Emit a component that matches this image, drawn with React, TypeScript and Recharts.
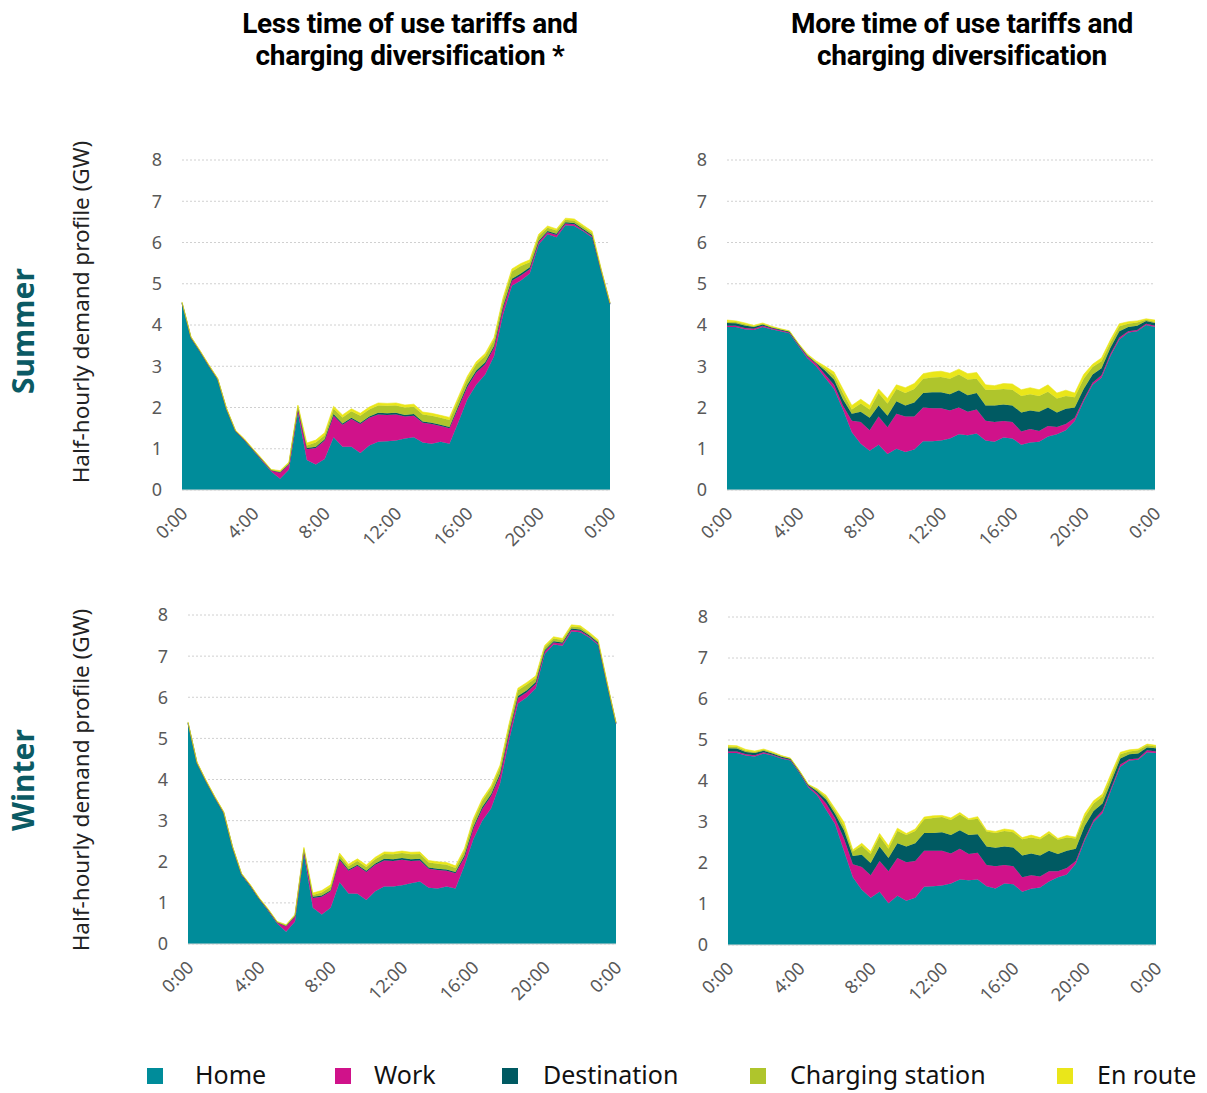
import * as React from 'react';
import { AreaChart, Area, XAxis, YAxis, CartesianGrid } from 'recharts';

const times = [
  '0:00', '0:30', '1:00', '1:30', '2:00', '2:30', '3:00', '3:30', '4:00', '4:30',
  '5:00', '5:30', '6:00', '6:30', '7:00', '7:30', '8:00', '8:30', '9:00', '9:30',
  '10:00', '10:30', '11:00', '11:30', '12:00', '12:30', '13:00', '13:30', '14:00', '14:30',
  '15:00', '15:30', '16:00', '16:30', '17:00', '17:30', '18:00', '18:30', '19:00', '19:30',
  '20:00', '20:30', '21:00', '21:30', '22:00', '22:30', '23:00', '23:30', '0:00',
];
const yTicks = [0, 1, 2, 3, 4, 5, 6, 7, 8];

// Summer, less ToU
const summerLessHome = [4.52, 3.68, 3.35, 3.0, 2.67, 1.94, 1.41, 1.2, 0.95, 0.7, 0.45, 0.27, 0.5, 1.88, 0.73, 0.62, 0.75, 1.28, 1.05, 1.05, 0.9, 1.08, 1.17, 1.18, 1.2, 1.25, 1.28, 1.15, 1.12, 1.17, 1.12, 1.65, 2.2, 2.55, 2.8, 3.25, 4.25, 4.95, 5.08, 5.25, 5.95, 6.2, 6.13, 6.42, 6.4, 6.27, 6.12, 5.3, 4.5];
const summerLessWork = [0.01, 0.01, 0.01, 0.01, 0.01, 0.01, 0.01, 0.01, 0.01, 0.02, 0.02, 0.15, 0.12, 0.1, 0.26, 0.4, 0.45, 0.52, 0.53, 0.67, 0.7, 0.67, 0.66, 0.64, 0.63, 0.53, 0.52, 0.48, 0.48, 0.38, 0.38, 0.35, 0.3, 0.3, 0.25, 0.2, 0.15, 0.12, 0.12, 0.1, 0.06, 0.05, 0.05, 0.04, 0.04, 0.03, 0.03, 0.02, 0.01];
const summerLessDest = [0.01, 0.01, 0.01, 0.01, 0.01, 0.01, 0.01, 0.01, 0.01, 0.01, 0.01, 0.01, 0.01, 0.01, 0.03, 0.03, 0.03, 0.04, 0.03, 0.03, 0.03, 0.03, 0.04, 0.04, 0.04, 0.04, 0.04, 0.03, 0.03, 0.03, 0.03, 0.05, 0.05, 0.05, 0.05, 0.05, 0.05, 0.05, 0.05, 0.05, 0.03, 0.03, 0.03, 0.03, 0.03, 0.03, 0.03, 0.01, 0.01];
const summerLessStation = [0.01, 0.01, 0.01, 0.01, 0.01, 0.01, 0.01, 0.01, 0.01, 0.01, 0.01, 0.02, 0.03, 0.04, 0.06, 0.1, 0.1, 0.13, 0.15, 0.16, 0.17, 0.17, 0.18, 0.18, 0.18, 0.18, 0.18, 0.17, 0.17, 0.17, 0.17, 0.15, 0.15, 0.15, 0.15, 0.14, 0.15, 0.18, 0.18, 0.12, 0.12, 0.08, 0.08, 0.06, 0.06, 0.05, 0.05, 0.02, 0.01];
const summerLessEnRoute = [0.01, 0.01, 0.01, 0.01, 0.01, 0.01, 0.01, 0.01, 0.01, 0.01, 0.01, 0.02, 0.02, 0.03, 0.06, 0.06, 0.06, 0.06, 0.06, 0.06, 0.06, 0.06, 0.06, 0.06, 0.06, 0.06, 0.06, 0.06, 0.06, 0.06, 0.06, 0.06, 0.06, 0.06, 0.06, 0.06, 0.06, 0.06, 0.06, 0.06, 0.04, 0.04, 0.04, 0.04, 0.04, 0.04, 0.04, 0.02, 0.01];

// Summer, more ToU
const summerMoreHome = [3.95, 3.95, 3.9, 3.88, 3.95, 3.9, 3.85, 3.8, 3.5, 3.2, 3.0, 2.72, 2.45, 1.95, 1.4, 1.12, 0.95, 1.1, 0.87, 1.0, 0.92, 0.98, 1.18, 1.18, 1.2, 1.25, 1.35, 1.33, 1.37, 1.2, 1.17, 1.27, 1.25, 1.1, 1.15, 1.17, 1.3, 1.35, 1.45, 1.67, 2.15, 2.55, 2.72, 3.25, 3.65, 3.82, 3.85, 4.0, 3.95];
const summerMoreWork = [0.03, 0.03, 0.03, 0.03, 0.03, 0.02, 0.02, 0.02, 0.02, 0.04, 0.06, 0.08, 0.1, 0.1, 0.28, 0.53, 0.5, 0.68, 0.65, 0.85, 0.86, 0.8, 0.82, 0.8, 0.78, 0.68, 0.65, 0.57, 0.58, 0.48, 0.48, 0.4, 0.4, 0.32, 0.33, 0.26, 0.25, 0.18, 0.15, 0.08, 0.05, 0.05, 0.06, 0.05, 0.05, 0.03, 0.03, 0.03, 0.03];
const summerMoreDest = [0.07, 0.06, 0.06, 0.04, 0.03, 0.02, 0.02, 0.02, 0.02, 0.02, 0.02, 0.1, 0.13, 0.15, 0.17, 0.25, 0.3, 0.27, 0.28, 0.3, 0.27, 0.34, 0.35, 0.39, 0.39, 0.39, 0.42, 0.4, 0.4, 0.37, 0.4, 0.4, 0.4, 0.46, 0.45, 0.47, 0.45, 0.35, 0.37, 0.25, 0.25, 0.2, 0.17, 0.15, 0.15, 0.1, 0.1, 0.07, 0.07];
const summerMoreStation = [0.03, 0.03, 0.03, 0.02, 0.02, 0.01, 0.01, 0.01, 0.01, 0.02, 0.02, 0.05, 0.1, 0.15, 0.1, 0.2, 0.2, 0.3, 0.3, 0.3, 0.3, 0.33, 0.35, 0.36, 0.37, 0.38, 0.38, 0.38, 0.35, 0.38, 0.38, 0.38, 0.38, 0.4, 0.39, 0.38, 0.38, 0.34, 0.31, 0.25, 0.25, 0.18, 0.17, 0.12, 0.12, 0.08, 0.08, 0.03, 0.03];
const summerMoreEnRoute = [0.04, 0.03, 0.03, 0.02, 0.02, 0.02, 0.01, 0.01, 0.01, 0.02, 0.03, 0.05, 0.08, 0.1, 0.1, 0.1, 0.1, 0.1, 0.12, 0.1, 0.13, 0.13, 0.12, 0.13, 0.14, 0.13, 0.13, 0.14, 0.15, 0.12, 0.1, 0.13, 0.14, 0.15, 0.16, 0.15, 0.17, 0.13, 0.14, 0.1, 0.1, 0.07, 0.08, 0.07, 0.06, 0.05, 0.04, 0.02, 0.04];

// Winter, less ToU
const winterLessHome = [5.36, 4.39, 3.95, 3.55, 3.18, 2.33, 1.68, 1.4, 1.08, 0.8, 0.5, 0.3, 0.55, 2.2, 0.88, 0.72, 0.88, 1.5, 1.23, 1.22, 1.07, 1.28, 1.4, 1.4, 1.43, 1.48, 1.52, 1.37, 1.35, 1.4, 1.35, 1.9, 2.55, 3.0, 3.3, 3.9, 4.95, 5.85, 6.0, 6.22, 7.05, 7.28, 7.25, 7.6, 7.58, 7.45, 7.27, 6.3, 5.35];
const winterLessWork = [0.01, 0.01, 0.01, 0.01, 0.01, 0.01, 0.01, 0.01, 0.01, 0.02, 0.02, 0.13, 0.12, 0.08, 0.24, 0.43, 0.4, 0.55, 0.55, 0.68, 0.68, 0.65, 0.63, 0.62, 0.62, 0.54, 0.51, 0.46, 0.45, 0.38, 0.37, 0.2, 0.25, 0.28, 0.3, 0.2, 0.15, 0.13, 0.12, 0.1, 0.06, 0.05, 0.05, 0.04, 0.04, 0.03, 0.03, 0.02, 0.01];
const winterLessDest = [0.01, 0.01, 0.01, 0.01, 0.01, 0.01, 0.01, 0.01, 0.01, 0.01, 0.01, 0.01, 0.01, 0.01, 0.03, 0.03, 0.03, 0.03, 0.03, 0.03, 0.03, 0.03, 0.04, 0.04, 0.04, 0.04, 0.04, 0.03, 0.03, 0.03, 0.03, 0.05, 0.05, 0.05, 0.05, 0.05, 0.05, 0.05, 0.05, 0.05, 0.03, 0.03, 0.03, 0.03, 0.03, 0.03, 0.03, 0.01, 0.01];
const winterLessStation = [0.01, 0.01, 0.01, 0.01, 0.01, 0.01, 0.01, 0.01, 0.01, 0.01, 0.01, 0.02, 0.02, 0.03, 0.04, 0.07, 0.08, 0.08, 0.08, 0.09, 0.09, 0.1, 0.12, 0.12, 0.12, 0.12, 0.12, 0.12, 0.12, 0.12, 0.1, 0.12, 0.15, 0.15, 0.15, 0.15, 0.15, 0.14, 0.14, 0.1, 0.08, 0.07, 0.06, 0.05, 0.05, 0.03, 0.03, 0.02, 0.01];
const winterLessEnRoute = [0.01, 0.01, 0.01, 0.01, 0.01, 0.01, 0.01, 0.01, 0.01, 0.01, 0.01, 0.01, 0.02, 0.03, 0.05, 0.05, 0.05, 0.05, 0.05, 0.05, 0.05, 0.05, 0.05, 0.05, 0.05, 0.05, 0.05, 0.05, 0.05, 0.05, 0.05, 0.05, 0.05, 0.05, 0.05, 0.05, 0.05, 0.05, 0.05, 0.05, 0.04, 0.04, 0.04, 0.04, 0.04, 0.04, 0.04, 0.02, 0.01];

// Winter, more ToU
const winterMoreHome = [4.68, 4.68, 4.62, 4.6, 4.67, 4.62, 4.55, 4.5, 4.2, 3.85, 3.65, 3.3, 2.95, 2.3, 1.65, 1.35, 1.15, 1.3, 1.02, 1.2, 1.08, 1.15, 1.42, 1.43, 1.45, 1.5, 1.6, 1.58, 1.6, 1.43, 1.38, 1.5, 1.48, 1.3, 1.37, 1.4, 1.55, 1.65, 1.72, 1.98, 2.55, 3.0, 3.22, 3.8, 4.35, 4.5, 4.52, 4.7, 4.68];
const winterMoreWork = [0.04, 0.04, 0.03, 0.03, 0.03, 0.02, 0.02, 0.02, 0.02, 0.03, 0.05, 0.15, 0.15, 0.3, 0.32, 0.55, 0.55, 0.75, 0.78, 0.92, 0.94, 0.9, 0.88, 0.87, 0.85, 0.73, 0.75, 0.64, 0.65, 0.52, 0.54, 0.45, 0.44, 0.35, 0.33, 0.27, 0.25, 0.15, 0.16, 0.07, 0.05, 0.05, 0.06, 0.05, 0.05, 0.03, 0.03, 0.05, 0.04];
const winterMoreDest = [0.08, 0.07, 0.06, 0.05, 0.04, 0.03, 0.02, 0.02, 0.02, 0.02, 0.05, 0.1, 0.1, 0.2, 0.2, 0.3, 0.3, 0.35, 0.32, 0.36, 0.38, 0.43, 0.43, 0.43, 0.45, 0.45, 0.45, 0.46, 0.45, 0.45, 0.45, 0.45, 0.46, 0.53, 0.53, 0.51, 0.5, 0.42, 0.42, 0.3, 0.3, 0.22, 0.17, 0.15, 0.15, 0.12, 0.12, 0.07, 0.08];
const winterMoreStation = [0.04, 0.04, 0.03, 0.03, 0.02, 0.02, 0.02, 0.01, 0.01, 0.01, 0.04, 0.06, 0.08, 0.1, 0.11, 0.22, 0.22, 0.25, 0.23, 0.3, 0.28, 0.3, 0.34, 0.37, 0.37, 0.37, 0.38, 0.37, 0.38, 0.37, 0.36, 0.38, 0.37, 0.4, 0.39, 0.4, 0.42, 0.35, 0.32, 0.25, 0.22, 0.18, 0.17, 0.12, 0.1, 0.07, 0.08, 0.05, 0.04];
const winterMoreEnRoute = [0.03, 0.03, 0.03, 0.02, 0.02, 0.02, 0.01, 0.01, 0.01, 0.01, 0.02, 0.04, 0.05, 0.1, 0.04, 0.06, 0.06, 0.07, 0.07, 0.07, 0.04, 0.05, 0.05, 0.05, 0.04, 0.05, 0.05, 0.03, 0.05, 0.03, 0.04, 0.05, 0.05, 0.04, 0.06, 0.04, 0.05, 0.03, 0.05, 0.03, 0.08, 0.07, 0.06, 0.08, 0.05, 0.04, 0.03, 0.03, 0.03];

const seriesNames = ['Home', 'Work', 'Destination', 'Charging station', 'En route'];
const seriesColors = ['#008C9A', '#D0128A', '#005A62', '#AFC52C', '#EAE61A'];

const FONT = "'Noto Sans', 'Open Sans', sans-serif";

function buildRows(series: number[][]) {
  return times.map((t, i) => {
    const row: Record<string, string | number> = { time: t };
    seriesNames.forEach((name, s) => {
      row[name] = series[s][i];
    });
    return row;
  });
}

function XTick(props: any) {
  const { x, y, payload } = props;
  const ax = x - 4;
  const ay = y + 6;
  return (
    <text
      x={ax}
      y={ay}
      transform={`rotate(-45, ${ax}, ${ay})`}
      textAnchor="end"
      dominantBaseline="hanging"
      fontSize={18}
      fill="#595959"
      fontFamily={FONT}
    >
      {payload.value}
    </text>
  );
}

interface PanelProps {
  series: number[][];
  plotLeft: number;
  plotTop: number;
  plotWidth: number;
  plotHeight: number;
}

function Panel({ series, plotLeft, plotTop, plotWidth, plotHeight }: PanelProps) {
  const yAxisWidth = 40;
  const top = 20;
  const xAxisHeight = 70;
  const data = buildRows(series);
  return (
    <div style={{ position: 'absolute', left: plotLeft - yAxisWidth, top: plotTop - top }}>
      <AreaChart
        width={plotWidth + yAxisWidth + 20}
        height={plotHeight + top + xAxisHeight}
        data={data}
        margin={{ top, right: 20, bottom: 0, left: 0 }}
      >
        <CartesianGrid vertical={false} stroke="#d0d0d0" strokeDasharray="2 2" />
        <XAxis
          dataKey="time"
          interval={7}
          height={xAxisHeight}
          tick={<XTick />}
          tickLine={false}
          axisLine={{ stroke: '#d9d9d9' }}
        />
        <YAxis
          domain={[0, 8]}
          ticks={yTicks}
          width={yAxisWidth}
          tickLine={false}
          axisLine={false}
          tickSize={0}
          tickMargin={20}
          tick={{ fontSize: 18, fill: '#595959', fontFamily: FONT }}
        />
        {seriesNames.map((name, s) => (
          <Area
            key={name}
            type="linear"
            dataKey={name}
            stackId="1"
            stroke={seriesColors[s]}
            strokeWidth={0.6}
            fill={seriesColors[s]}
            fillOpacity={1}
            isAnimationActive={false}
          />
        ))}
      </AreaChart>
    </div>
  );
}

export default function App() {
  const titleStyle: React.CSSProperties = {
    position: 'absolute',
    top: 8,
    width: 480,
    textAlign: 'center',
    fontFamily: "'Liberation Sans Narrow', 'Roboto', sans-serif",
    fontWeight: 700,
    fontSize: 28,
    lineHeight: '32px',
    letterSpacing: '-0.3px',
    color: '#000',
  };
  return (
    <div style={{ position: 'absolute', left: 0, top: 0, width: 1207, height: 1093, background: '#fff', overflow: 'hidden' }}>
      <div style={{ ...titleStyle, left: 410 - 240 }}>
        Less time of use tariffs and
        <br />
        charging diversification *
      </div>
      <div style={{ ...titleStyle, left: 962 - 240 }}>
        More time of use tariffs and
        <br />
        charging diversification
      </div>

      <svg width={1207} height={1093} style={{ position: 'absolute', left: 0, top: 0 }}>
        <text x={22} y={331} transform="rotate(-90, 22, 331)" textAnchor="middle" dominantBaseline="central"
          fontFamily={FONT} fontWeight={700} fontSize={30} fill="#0B5A64">Summer</text>
        <text x={22} y={780} transform="rotate(-90, 22, 780)" textAnchor="middle" dominantBaseline="central"
          fontFamily={FONT} fontWeight={700} fontSize={30} fill="#0B5A64">Winter</text>
        <text x={80} y={312} transform="rotate(-90, 80, 312)" textAnchor="middle" dominantBaseline="central"
          fontFamily={FONT} fontSize={22.5} fill="#222">Half-hourly demand profile (GW)</text>
        <text x={80} y={780} transform="rotate(-90, 80, 780)" textAnchor="middle" dominantBaseline="central"
          fontFamily={FONT} fontSize={22.5} fill="#222">Half-hourly demand profile (GW)</text>
      </svg>

      <Panel
        series={[summerLessHome, summerLessWork, summerLessDest, summerLessStation, summerLessEnRoute]}
        plotLeft={182} plotTop={160} plotWidth={428} plotHeight={330}
      />
      <Panel
        series={[summerMoreHome, summerMoreWork, summerMoreDest, summerMoreStation, summerMoreEnRoute]}
        plotLeft={727} plotTop={160} plotWidth={428} plotHeight={330}
      />
      <Panel
        series={[winterLessHome, winterLessWork, winterLessDest, winterLessStation, winterLessEnRoute]}
        plotLeft={188} plotTop={615} plotWidth={428} plotHeight={329}
      />
      <Panel
        series={[winterMoreHome, winterMoreWork, winterMoreDest, winterMoreStation, winterMoreEnRoute]}
        plotLeft={728} plotTop={617} plotWidth={428} plotHeight={328}
      />

      {seriesNames.map((name, s) => {
        const sq = [147, 335, 502, 750, 1057][s];
        const tx = [195, 374, 543, 790, 1097][s];
        return (
          <React.Fragment key={name}>
            <div style={{ position: 'absolute', left: sq, top: 1068, width: 16, height: 16, background: seriesColors[s] }} />
            <div style={{ position: 'absolute', left: tx, top: 1062, fontFamily: FONT, fontSize: 25, lineHeight: '25px', color: '#111', whiteSpace: 'nowrap' }}>
              {name}
            </div>
          </React.Fragment>
        );
      })}
    </div>
  );
}
